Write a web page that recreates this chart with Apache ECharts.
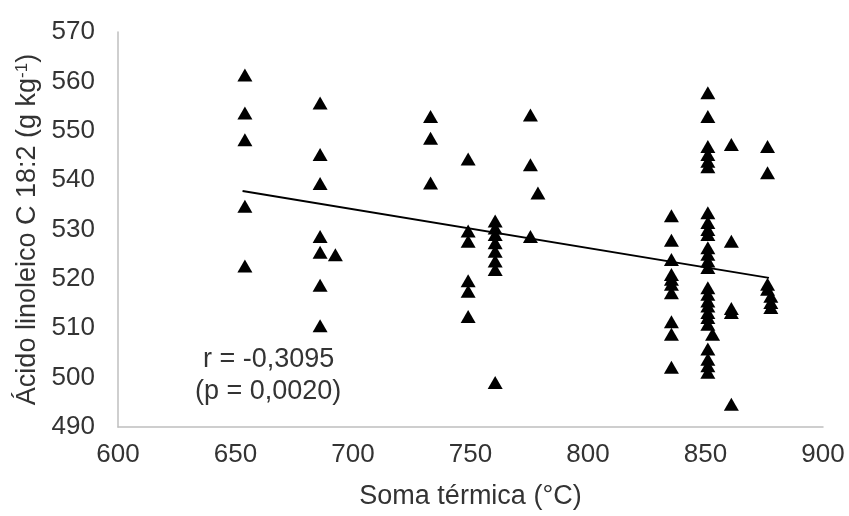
<!DOCTYPE html>
<html>
<head>
<meta charset="utf-8">
<script src="https://cdn.jsdelivr.net/npm/echarts@6/dist/echarts.min.js"></script>
<style>
  html, body { margin: 0; padding: 0; background: #fff; }
  #main { width: 849px; height: 516px; }
</style>
</head>
<body>
<div id="main"></div>
<script>
// soma térmica (x) per group and the linoleic acid readings (y)
let pts653 = [[654, 561.3], [654, 553.6], [654, 548.2], [654, 534.7], [654, 522.6]];
let pts685 = [[686, 555.6], [686, 545.2], [686, 539.3], [686, 528.6], [686, 525.4], [686, 518.7], [686, 510.5], [692.5, 524.9]];
let pts733 = [[733, 552.9], [733, 548.5], [733, 539.4]];
let pts748 = [[749, 544.3], [749, 529.7], [749, 527.6], [749, 519.6], [749, 517.5], [749, 512.4]];
let pts760 = [[760.5, 531.7], [760.5, 530.3], [760.5, 529.0], [760.5, 527.3], [760.5, 525.6], [760.5, 523.6], [760.5, 521.9], [760.5, 499.0]];
let pts775 = [[775.5, 553.2], [775.5, 543.1], [775.5, 528.6], [778.7, 537.4]];
let pts835 = [[835.5, 532.8], [835.5, 527.8], [835.5, 523.9], [835.5, 520.9], [835.5, 519.9], [835.5, 518.9], [835.5, 517.2], [835.5, 511.3], [835.5, 508.8], [835.5, 502.1]];
let pts850 = [[851, 557.7], [851, 552.9], [851, 546.8], [851, 545.2], [851, 543.8], [851, 542.7],
              [851, 533.4], [851, 531.4], [851, 530.0], [851, 529.0], [851, 526.3], [851, 525.0], [851, 523.6], [851, 522.3],
              [851, 518.2], [851, 516.9], [851, 515.5], [851, 514.5], [851, 513.2], [851, 512.2], [851, 510.8],
              [851, 505.8], [851, 503.7], [851, 502.4], [851, 501.1], [853, 508.8]];
let pts860 = [[861, 547.2], [861, 527.6], [861, 514.0], [861, 513.2], [861, 494.6]];
let pts875 = [[876.4, 546.8], [876.4, 541.5], [876.4, 518.9], [876.4, 517.9], [877.8, 516.5], [877.8, 515.2], [877.8, 514.2]];

let trendLine = [[653, 537.8], [877, 520.2]];

let xTicks = { min: 600, max: 900, interval: 50 };
let yTicks = { min: 490, max: 570, interval: 10 };

let statR = "r = -0,3095";
let statP = "(p = 0,0020)";

let allPoints = [].concat(pts653, pts685, pts733, pts748, pts760, pts775, pts835, pts850, pts860, pts875);

var dom = document.getElementById("main");
var myChart = echarts.init(dom);

var font = "Arial, 'Liberation Sans', sans-serif";
var txt = '#333333';

var option = {
    animation: false,
    grid: {
        left: 118,
        right: 26,
        top: 32,
        bottom: 89
    },
    xAxis: {
        type: 'value',
        min: xTicks.min,
        max: xTicks.max,
        interval: xTicks.interval,
        name: 'Soma térmica (°C)',
        nameLocation: 'middle',
        nameGap: 56,
        nameTextStyle: { color: txt, fontSize: 27, fontFamily: font },
        axisLine: { show: true, lineStyle: { color: '#bfbfbf', width: 1.5 } },
        axisTick: { show: false },
        splitLine: { show: false },
        axisLabel: { color: txt, fontSize: 26, fontFamily: font, margin: 15 }
    },
    yAxis: {
        type: 'value',
        min: yTicks.min,
        max: yTicks.max,
        interval: yTicks.interval,
        name: '{a|Ácido linoleico C 18:2 (g kg}{s|-1}{a|)}',
        nameLocation: 'middle',
        nameGap: 76,
        nameRotate: 90,
        nameTextStyle: {
            color: txt,
            fontFamily: font,
            rich: {
                a: { fontSize: 27, fontFamily: font, color: txt },
                s: { fontSize: 17, fontFamily: font, color: txt, verticalAlign: 'top', padding: [0, 0, 10, 0] }
            }
        },
        axisLine: { show: true, lineStyle: { color: '#bfbfbf', width: 1.5 } },
        axisTick: { show: false },
        splitLine: { show: false },
        axisLabel: { color: txt, fontSize: 26, fontFamily: font, margin: 23 }
    },
    series: [
        {
            type: 'scatter',
            data: allPoints,
            symbol: 'triangle',
            symbolSize: [15, 13],
            itemStyle: { color: '#000000', opacity: 1 },
            z: 3
        },
        {
            type: 'line',
            data: trendLine,
            symbol: 'none',
            lineStyle: { color: '#000000', width: 1.8 },
            z: 4
        }
    ],
    graphic: [
        {
            type: 'text',
            style: { x: 203, y: 360, text: statR, fill: txt, font: '27px ' + font, textAlign: 'left', textVerticalAlign: 'middle' }
        },
        {
            type: 'text',
            style: { x: 195, y: 392, text: statP, fill: txt, font: '27px ' + font, textAlign: 'left', textVerticalAlign: 'middle' }
        }
    ]
};

if (option && typeof option === "object") {
    myChart.setOption(option, true);
}
</script>
</body>
</html>
